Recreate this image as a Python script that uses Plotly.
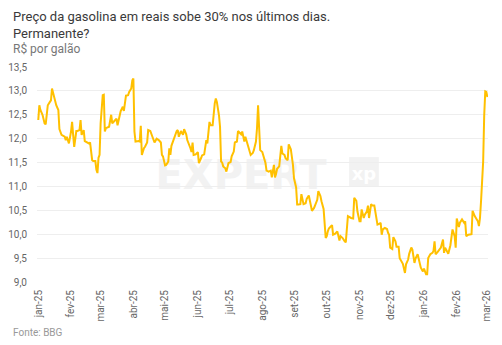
import plotly.graph_objects as go

dates = [
    "2025-01-01", "2025-01-02", "2025-01-03", "2025-01-05", "2025-01-07", "2025-01-08", "2025-01-09", "2025-01-10",
    "2025-01-12", "2025-01-13", "2025-01-14", "2025-01-16", "2025-01-18", "2025-01-20", "2025-01-21", "2025-01-23",
    "2025-01-26", "2025-01-27", "2025-01-28", "2025-01-29", "2025-01-30", "2025-02-01", "2025-02-02", "2025-02-03",
    "2025-02-04", "2025-02-06", "2025-02-07", "2025-02-09", "2025-02-10", "2025-02-11", "2025-02-13", "2025-02-14",
    "2025-02-16", "2025-02-18", "2025-02-19", "2025-02-20", "2025-02-21", "2025-02-22", "2025-02-24", "2025-02-25",
    "2025-02-26", "2025-02-27", "2025-02-28", "2025-03-01", "2025-03-03", "2025-03-04", "2025-03-05", "2025-03-06",
    "2025-03-08", "2025-03-09", "2025-03-11", "2025-03-12", "2025-03-14", "2025-03-16", "2025-03-17", "2025-03-19",
    "2025-03-20", "2025-03-22", "2025-03-23", "2025-03-25", "2025-03-27", "2025-03-28", "2025-03-30", "2025-03-31",
    "2025-04-01", "2025-04-02", "2025-04-03", "2025-04-06", "2025-04-07", "2025-04-08", "2025-04-09", "2025-04-11",
    "2025-04-12", "2025-04-14", "2025-04-15", "2025-04-17", "2025-04-19", "2025-04-20", "2025-04-21", "2025-04-23",
    "2025-04-25", "2025-04-27", "2025-04-28", "2025-04-29", "2025-05-01", "2025-05-02", "2025-05-04", "2025-05-05",
    "2025-05-06", "2025-05-07", "2025-05-10", "2025-05-12", "2025-05-13", "2025-05-14", "2025-05-16", "2025-05-17",
    "2025-05-18", "2025-05-19", "2025-05-21", "2025-05-22", "2025-05-24", "2025-05-25", "2025-05-26", "2025-05-27",
    "2025-05-28", "2025-05-30", "2025-06-01", "2025-06-02", "2025-06-04", "2025-06-05", "2025-06-07", "2025-06-09",
    "2025-06-10", "2025-06-12", "2025-06-13", "2025-06-15", "2025-06-17", "2025-06-18", "2025-06-19", "2025-06-21",
    "2025-06-22", "2025-06-23", "2025-06-24", "2025-06-25", "2025-06-27", "2025-06-28", "2025-06-30", "2025-07-02",
    "2025-07-03", "2025-07-05", "2025-07-06", "2025-07-08", "2025-07-09", "2025-07-11", "2025-07-12", "2025-07-13",
    "2025-07-15", "2025-07-16", "2025-07-18", "2025-07-20", "2025-07-21", "2025-07-23", "2025-07-24", "2025-07-26",
    "2025-07-27", "2025-07-28", "2025-07-29", "2025-07-30", "2025-08-01", "2025-08-02", "2025-08-04", "2025-08-05",
    "2025-08-07", "2025-08-09", "2025-08-10", "2025-08-12", "2025-08-13", "2025-08-14", "2025-08-15", "2025-08-17",
    "2025-08-19", "2025-08-20", "2025-08-22", "2025-08-23", "2025-08-25", "2025-08-26", "2025-08-28", "2025-08-30",
    "2025-08-31", "2025-09-02", "2025-09-03", "2025-09-04", "2025-09-06", "2025-09-07", "2025-09-09", "2025-09-11",
    "2025-09-12", "2025-09-14", "2025-09-15", "2025-09-17", "2025-09-19", "2025-09-20", "2025-09-22", "2025-09-23",
    "2025-09-25", "2025-09-26", "2025-09-28", "2025-09-30", "2025-10-01", "2025-10-02", "2025-10-03", "2025-10-05",
    "2025-10-06", "2025-10-07", "2025-10-09", "2025-10-11", "2025-10-12", "2025-10-13", "2025-10-14", "2025-10-16",
    "2025-10-18", "2025-10-19", "2025-10-21", "2025-10-22", "2025-10-24", "2025-10-26", "2025-10-27", "2025-10-29",
    "2025-10-30", "2025-11-01", "2025-11-02", "2025-11-03", "2025-11-05", "2025-11-06", "2025-11-08", "2025-11-09",
    "2025-11-10", "2025-11-12", "2025-11-13", "2025-11-15", "2025-11-17", "2025-11-18", "2025-11-20", "2025-11-21",
    "2025-11-22", "2025-11-23", "2025-11-25", "2025-11-27", "2025-11-28", "2025-11-29", "2025-11-30", "2025-12-02",
    "2025-12-03", "2025-12-05", "2025-12-06", "2025-12-08", "2025-12-09", "2025-12-11", "2025-12-12", "2025-12-14",
    "2025-12-15", "2025-12-17", "2025-12-18", "2025-12-20", "2025-12-21", "2025-12-23", "2025-12-24", "2025-12-26",
    "2025-12-28", "2025-12-29", "2025-12-31", "2026-01-01", "2026-01-03", "2026-01-04", "2026-01-05", "2026-01-07",
    "2026-01-09", "2026-01-10", "2026-01-11", "2026-01-12", "2026-01-14", "2026-01-16", "2026-01-17", "2026-01-19",
    "2026-01-20", "2026-01-21", "2026-01-23", "2026-01-24", "2026-01-26", "2026-01-27", "2026-01-28", "2026-01-30",
    "2026-01-31", "2026-02-01", "2026-02-03", "2026-02-04", "2026-02-06", "2026-02-08", "2026-02-09", "2026-02-10",
    "2026-02-12", "2026-02-15", "2026-02-16", "2026-02-18", "2026-02-19", "2026-02-21", "2026-02-22", "2026-02-23",
    "2026-02-24", "2026-02-26", "2026-02-27", "2026-02-28", "2026-03-01", "2026-03-02",
]

prices = [
    12.39, 12.70, 12.60, 12.50, 12.32, 12.30, 12.50, 12.70,
    12.77, 12.80, 13.05, 12.84, 12.70, 12.60, 12.20, 12.08,
    12.04, 11.97, 12.04, 11.97, 11.90, 12.15, 12.35, 12.08,
    11.83, 12.16, 12.16, 12.18, 12.39, 12.08, 12.18, 11.95,
    11.92, 11.90, 11.92, 11.76, 11.55, 11.53, 11.53, 11.35,
    11.28, 11.60, 11.66, 12.32, 12.91, 12.92, 12.15, 12.22,
    12.23, 12.25, 12.50, 12.32, 12.37, 12.42, 12.28, 12.53,
    12.58, 12.67, 12.58, 12.90, 12.91, 12.98, 13.05, 13.22,
    13.26, 12.15, 11.94, 11.95, 11.94, 12.27, 11.66, 11.80,
    11.83, 11.92, 12.18, 12.16, 12.04, 12.02, 11.92, 12.00,
    11.97, 11.92, 11.66, 11.63, 11.44, 11.45, 11.52, 11.80,
    11.66, 11.85, 12.04, 12.16, 12.18, 12.04, 12.16, 12.11,
    12.08, 12.20, 12.09, 11.97, 11.88, 11.80, 11.72, 11.92,
    11.66, 11.67, 11.72, 11.49, 11.59, 11.65, 11.67, 11.97,
    11.90, 12.35, 12.28, 12.28, 12.74, 12.84, 12.77, 12.49,
    12.25, 11.52, 11.50, 11.42, 11.38, 11.31, 11.49, 11.51,
    11.63, 11.73, 11.92, 11.94, 12.16, 12.11, 12.09, 12.15,
    11.94, 12.04, 11.90, 11.76, 11.66, 11.70, 11.76, 11.94,
    12.22, 12.70, 12.28, 11.76, 11.72, 11.63, 11.49, 11.33,
    11.31, 11.33, 11.19, 11.45, 11.19, 11.26, 11.37, 11.42,
    11.85, 11.69, 11.66, 11.59, 11.55, 11.88, 11.78, 11.45,
    11.17, 10.98, 10.62, 10.62, 10.63, 10.84, 10.63, 10.65,
    10.74, 10.81, 10.69, 10.49, 10.55, 10.60, 10.72, 10.90,
    10.80, 10.69, 10.53, 9.92, 9.96, 10.06, 10.12, 10.17,
    10.19, 9.99, 10.01, 10.06, 9.96, 9.87, 9.96, 9.92,
    9.85, 9.83, 10.38, 10.36, 10.34, 10.33, 10.76, 10.70,
    10.48, 10.27, 10.27, 10.52, 10.34, 10.41, 10.48, 10.60,
    10.34, 10.63, 10.60, 10.60, 10.31, 10.20, 10.22, 10.24,
    9.99, 10.10, 10.13, 10.11, 10.03, 9.99, 9.72, 9.69,
    9.94, 9.85, 9.74, 9.74, 9.50, 9.42, 9.38, 9.19,
    9.37, 9.47, 9.59, 9.72, 9.68, 9.40, 9.49, 9.58,
    9.40, 9.30, 9.22, 9.28, 9.16, 9.16, 9.50, 9.58,
    9.61, 9.65, 9.85, 9.58, 9.63, 9.68, 9.72, 9.89,
    9.61, 9.72, 9.63, 9.59, 9.77, 9.99, 10.10, 9.96,
    9.72, 10.33, 10.15, 10.24, 10.31, 10.24, 10.27, 9.96,
    9.99, 10.00, 10.49, 10.38, 10.34, 10.27, 10.17, 10.34,
    10.69, 11.52, 12.49, 12.99, 12.98, 12.87,
]

month_ticks = [
    "2025-01-01", "2025-02-01", "2025-03-01", "2025-04-01", "2025-05-01", "2025-06-01", "2025-07-01",
    "2025-08-01", "2025-09-01", "2025-10-01", "2025-11-01", "2025-12-01", "2026-01-01", "2026-02-01", "2026-03-01",
]
month_labels = [
    "jan-25", "fev-25", "mar-25", "abr-25", "mai-25", "jun-25", "jul-25",
    "ago-25", "set-25", "out-25", "nov-25", "dez-25", "jan-26", "fev-26", "mar-26",
]
y_ticks = [9.0, 9.5, 10.0, 10.5, 11.0, 11.5, 12.0, 12.5, 13.0, 13.5]

title_line1 = "Preço da gasolina em reais sobe 30% nos últimos dias."
title_line2 = "Permanente?"
subtitle = "R$ por galão"
source = "Fonte: BBG"

FONT = "Roboto"

fig = go.Figure()
fig.add_trace(go.Scatter(
    x=dates, y=prices, mode="lines",
    line=dict(color="#FFC000", width=2),
    hoverinfo="skip", showlegend=False,
))

# watermark (drawn below the line)
fig.add_shape(
    type="rect", xref="paper", yref="paper",
    x0=0.24, x1=0.665, y0=0.442, y1=0.581,
    fillcolor="rgba(0,0,0,0)", line=dict(width=0), layer="below",
    label=dict(text="<b>EXPERT</b>", textposition="middle center",
               font=dict(family="DejaVu Sans", size=40, color="#f2f2f2")),
)
fig.add_shape(
    type="rect", xref="paper", yref="paper",
    x0=0.692, x1=0.758, y0=0.442, y1=0.581,
    fillcolor="#f2f2f2", line=dict(width=0), layer="below",
    label=dict(text="<b>xp</b>", textposition="middle center",
               font=dict(family="DejaVu Sans", size=18, color="#ffffff")),
)

# titles
fig.add_annotation(x=-0.0576, y=1.235, xref="paper", yref="paper", text=title_line1,
                   showarrow=False, xanchor="left", yanchor="middle",
                   font=dict(family=FONT, size=13, color="#3a3a3a"))
fig.add_annotation(x=-0.0576, y=1.156, xref="paper", yref="paper", text=title_line2,
                   showarrow=False, xanchor="left", yanchor="middle",
                   font=dict(family=FONT, size=13, color="#3a3a3a"))
fig.add_annotation(x=-0.0576, y=1.082, xref="paper", yref="paper", text=subtitle,
                   showarrow=False, xanchor="left", yanchor="middle",
                   font=dict(family=FONT, size=12, color="#777777"))
fig.add_annotation(x=-0.0576, y=-0.235, xref="paper", yref="paper", text=source,
                   showarrow=False, xanchor="left", yanchor="middle",
                   font=dict(family=FONT, size=10, color="#999999"))

fig.update_layout(
    width=502, height=345,
    margin=dict(l=37, r=14, t=67, b=63),
    paper_bgcolor="white", plot_bgcolor="white",
    separators=",.",
    font=dict(family=FONT, color="#666666"),
    xaxis=dict(
        type="date",
        range=["2024-12-30 19:00", "2026-03-02 14:00"],
        tickmode="array", tickvals=month_ticks, ticktext=month_labels,
        tickangle=-90, tickfont=dict(size=10, color="#666666"),
        ticklabelstandoff=5, automargin=False,
        showgrid=False, zeroline=False, showline=False, ticks="",
    ),
    yaxis=dict(
        range=[9.0, 13.5], tickmode="array", tickvals=y_ticks,
        tickformat=".1f", tickfont=dict(size=10, color="#666666"),
        ticklabelstandoff=9, automargin=False,
        showgrid=True, gridcolor="#eeeeee", gridwidth=1,
        zeroline=False, showline=False, ticks="",
    ),
)

fig.write_html("out.html")
